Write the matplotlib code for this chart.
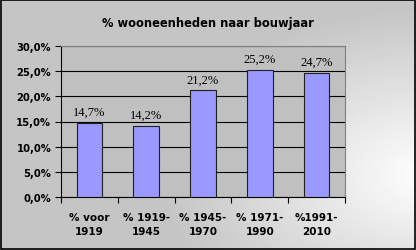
# % wooneenheden naar bouwjaar - bar chart
import matplotlib
matplotlib.use('Agg')
import matplotlib.pyplot as plt
import numpy as np

# --- Data ---
categories = ["% voor\n1919", "% 1919-\n1945", "% 1945-\n1970", "% 1971-\n1990", "%1991-\n2010"]
values = [14.7, 14.2, 21.2, 25.2, 24.7]
y_ticks = [0, 5, 10, 15, 20, 25, 30]

fig = plt.figure(figsize=(4.16, 2.51), dpi=100)

# --- Gradient background (light spot towards right side) ---
bg = fig.add_axes([0, 0, 1, 1], zorder=0)
w, h = 416, 251
xx, yy = np.meshgrid(np.arange(w), np.arange(h))
d = np.sqrt(((xx - 430) / 260.0) ** 2 + ((yy - 175) / 160.0) ** 2)
shade = np.clip(1.0 - 0.22 * d, 0.77, 1.0)
bg.imshow(shade, cmap='gray', vmin=0, vmax=1, aspect='auto', extent=[0, w, h, 0])
bg.set_axis_off()
bg.add_patch(plt.Rectangle((0.5, 0.5), w - 1.5, h - 1.5, fill=False, edgecolor='black', linewidth=1.2))
bg.set_xlim(0, w)
bg.set_ylim(h, 0)

# --- Plot area ---
ax = fig.add_axes([61 / 416, 53 / 251, 284 / 416, 151 / 251], zorder=1)
ax.set_facecolor('#c0c0c0')
x = np.arange(len(categories))
ax.bar(x, values, width=0.45, color='#9999ff', edgecolor='#202020', linewidth=0.8, zorder=3)

ax.set_ylim(0, 30)
ax.set_xlim(-0.5, len(categories) - 0.5)
ax.set_yticks(y_ticks)
ax.set_yticklabels([f"{t:.1f}%".replace('.', ',') for t in y_ticks],
                   fontsize=7.2, fontweight='bold', family='DejaVu Sans')
ax.yaxis.grid(True, color='black', linewidth=0.8, zorder=1)
ax.set_axisbelow(True)

# category labels between boundary ticks
ax.set_xticks(np.arange(len(categories) + 1) - 0.5)
ax.set_xticklabels([])
ax.set_xticks(x, minor=True)
ax.set_xticklabels(categories, minor=True, fontsize=7.5, fontweight='bold', linespacing=1.5)
ax.tick_params(axis='x', which='minor', length=0, pad=11)
ax.tick_params(axis='x', which='major', length=4, width=0.8, direction='out')
ax.tick_params(axis='y', length=4, width=0.8, pad=3)

for s in ['top', 'right']:
    ax.spines[s].set_color('#808080')
for s in ['left', 'bottom']:
    ax.spines[s].set_color('black')

for xi, v in zip(x, values):
    ax.text(xi, v + 1.0, f"{v:.1f}%".replace('.', ','), ha='center', va='bottom',
            fontsize=9, family='Liberation Serif', zorder=4)

fig.text(0.5, 0.905, "% wooneenheden naar bouwjaar", ha='center', va='center',
         fontsize=8.3, fontweight='bold', zorder=2)

fig.savefig('out.png', dpi=100)
